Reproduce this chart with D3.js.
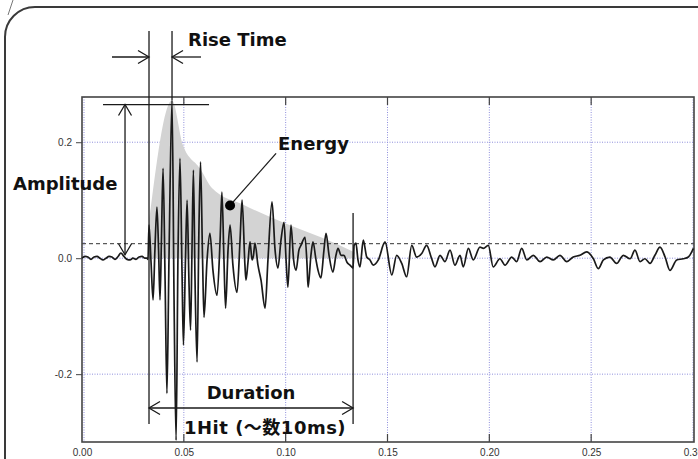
<!DOCTYPE html>
<html>
<head>
<meta charset="utf-8">
<script src="https://cdn.jsdelivr.net/npm/d3@7"></script>
<style>
    body { margin: 0; background: #fff; }
    svg { display: block; }
</style>
</head>
<body>
<svg id="chart" width="698" height="459"></svg>
<script>
const margins = {top: 97, right: 3, bottom: 17, left: 82, width: 698, height: 459};

const xTicks = [0, 0.05, 0.10, 0.15, 0.20, 0.25, 0.30];
const xTickLabels = ["0.00", "0.05", "0.10", "0.15", "0.20", "0.25", "0.30"];
const yTicks = [-0.2, 0.0, 0.2];
const yTickLabels = ["-0.2", "0.0", "0.2"];

// hit parameters (seconds / volts)
const threshold = 0.025;
const triggerTime = 0.0329;
const peakTime = 0.0442;
const peakAmp = 0.265;
const endTime = 0.1331;

// [time, amplitude]
const wave = [
    [0.0000, 0.000], [0.0015, 0.003], [0.0029, 0.002], [0.0044, -0.002], [0.0059, 0.002], [0.0074, 0.003],
    [0.0088, 0.000], [0.0103, -0.003], [0.0118, 0.000], [0.0133, 0.003], [0.0147, 0.002], [0.0162, -0.002],
    [0.0177, 0.003], [0.0191, 0.009], [0.0206, 0.003], [0.0221, -0.002], [0.0236, -0.003], [0.0250, 0.000],
    [0.0265, -0.002], [0.0280, 0.002], [0.0295, 0.003], [0.0309, 0.000], [0.0319, 0.000], [0.0324, -0.002],
    [0.0329, 0.057], [0.0339, -0.007], [0.0349, -0.072], [0.0358, 0.014], [0.0368, 0.088], [0.0376, 0.014],
    [0.0383, -0.072], [0.0390, 0.031], [0.0398, 0.155], [0.0408, -0.038], [0.0417, -0.233], [0.0427, -0.003],
    [0.0442, 0.272], [0.0452, -0.072], [0.0462, -0.314], [0.0471, -0.003], [0.0481, 0.172], [0.0491, -0.021],
    [0.0498, -0.150], [0.0508, -0.003], [0.0516, 0.100], [0.0525, -0.038], [0.0533, -0.124], [0.0540, 0.014],
    [0.0547, 0.152], [0.0555, -0.038], [0.0565, -0.179], [0.0574, 0.048], [0.0582, 0.166], [0.0592, -0.003],
    [0.0599, -0.102], [0.0614, -0.003], [0.0628, 0.043], [0.0643, -0.021], [0.0663, -0.064], [0.0678, 0.031],
    [0.0687, 0.114], [0.0697, -0.003], [0.0705, -0.086], [0.0717, 0.014], [0.0727, 0.057], [0.0741, -0.012],
    [0.0761, -0.059], [0.0776, 0.031], [0.0786, 0.100], [0.0800, -0.012], [0.0805, -0.038], [0.0815, -0.007],
    [0.0825, 0.028], [0.0835, -0.003], [0.0842, 0.005], [0.0849, 0.026], [0.0864, -0.012], [0.0879, -0.038],
    [0.0899, -0.086], [0.0913, -0.003], [0.0933, 0.097], [0.0948, 0.014], [0.0962, -0.017], [0.0977, 0.031],
    [0.0992, 0.062], [0.1002, -0.003], [0.1011, -0.050], [0.1026, 0.057], [0.1039, -0.003], [0.1051, -0.021],
    [0.1065, 0.014], [0.1075, 0.022], [0.1095, 0.036], [0.1105, -0.012], [0.1110, -0.050], [0.1124, 0.005],
    [0.1134, 0.028], [0.1149, -0.003], [0.1159, -0.021], [0.1173, -0.034], [0.1188, 0.014], [0.1198, 0.043],
    [0.1213, 0.005], [0.1232, -0.024], [0.1247, 0.005], [0.1257, 0.017], [0.1272, 0.005], [0.1286, 0.005],
    [0.1301, -0.007], [0.1316, -0.012], [0.1331, -0.017], [0.1336, 0.022], [0.1345, 0.026], [0.1355, -0.003],
    [0.1365, -0.015], [0.1381, 0.031], [0.1398, 0.002], [0.1414, -0.003], [0.1430, -0.012], [0.1455, -0.003],
    [0.1488, 0.028], [0.1521, -0.029], [0.1545, 0.005], [0.1570, -0.009], [0.1594, -0.032], [0.1619, 0.022],
    [0.1643, 0.002], [0.1668, 0.008], [0.1692, 0.022], [0.1717, -0.001], [0.1733, -0.015], [0.1758, 0.005],
    [0.1782, -0.006], [0.1807, 0.014], [0.1831, -0.012], [0.1856, 0.005], [0.1872, -0.015], [0.1897, 0.017],
    [0.1921, -0.003], [0.1954, 0.019], [0.1971, 0.017], [0.1995, 0.022], [0.2019, -0.015], [0.2052, -0.001],
    [0.2077, -0.012], [0.2110, 0.002], [0.2134, -0.006], [0.2159, 0.017], [0.2184, -0.003], [0.2216, 0.005],
    [0.2249, -0.006], [0.2282, 0.002], [0.2314, -0.003], [0.2347, 0.005], [0.2380, -0.006], [0.2412, 0.002],
    [0.2445, 0.005], [0.2478, 0.011], [0.2511, -0.001], [0.2535, -0.018], [0.2560, -0.003], [0.2592, 0.002],
    [0.2625, -0.009], [0.2658, 0.005], [0.2691, -0.001], [0.2715, 0.014], [0.2740, -0.006], [0.2764, -0.001],
    [0.2789, -0.009], [0.2813, 0.005], [0.2838, 0.019], [0.2863, 0.002], [0.2887, -0.021], [0.2920, -0.003],
    [0.2952, -0.001], [0.2977, 0.002], [0.3002, 0.017]
];

// shaded energy envelope
const energyEnvelope = [
    [0.0329, 0.057], [0.0442, 0.272], [0.0496, 0.195], [0.0579, 0.155], [0.0638, 0.121],
    [0.0800, 0.091], [0.1021, 0.057], [0.1173, 0.036], [0.1340, 0.010]
];
const energyDot = [0.0727, 0.091];

const svg = d3.select("#chart");
const plotRight = margins.width - margins.right - 1;
const plotBottom = margins.height - margins.bottom;

const xScale = d3.scaleLinear().domain([0, 0.30]).range([margins.left, 693]);
const yScale = d3.scaleLinear().domain([-0.317, 0.278]).range([plotBottom, margins.top]);

const labelFont = "'DejaVu Sans', 'Noto Sans CJK JP', sans-serif";
const ink = "#1a1a1a";

// outer rounded panel
svg.append("path")
    .attr("d", "M5,470 V37 A30,30 0 0 1 35,7 H710")
    .attr("fill", "none")
    .attr("stroke", "#3a3a3a")
    .attr("stroke-width", 2);
svg.append("line")
    .attr("x1", 13).attr("y1", 0).attr("x2", 8).attr("y2", 15)
    .attr("stroke", "#777").attr("stroke-width", 1);

// grid
const grid = svg.append("g");
grid.selectAll(".vgrid")
    .data(xTicks)
    .enter()
    .append("line")
    .attr("x1", d => xScale(d) + (d === 0 ? 2 : 0))
    .attr("x2", d => xScale(d) + (d === 0 ? 2 : 0))
    .attr("y1", margins.top)
    .attr("y2", plotBottom)
    .attr("stroke", "#8f8fdc")
    .attr("stroke-dasharray", "1,1.5");
grid.selectAll(".hgrid")
    .data(yTicks)
    .enter()
    .append("line")
    .attr("x1", margins.left)
    .attr("x2", plotRight)
    .attr("y1", d => yScale(d))
    .attr("y2", d => yScale(d))
    .attr("stroke", "#8f8fdc")
    .attr("stroke-dasharray", "1,1.5");

// energy area
const area = d3.area()
    .x(d => xScale(d[0]))
    .y0(yScale(0))
    .y1(d => yScale(d[1]))
    .curve(d3.curveMonotoneX);
svg.append("path")
    .datum(energyEnvelope)
    .attr("d", area)
    .attr("fill", "#d3d3d3");

// threshold
svg.append("line")
    .attr("x1", margins.left)
    .attr("x2", plotRight)
    .attr("y1", yScale(threshold))
    .attr("y2", yScale(threshold))
    .attr("stroke", "#333")
    .attr("stroke-dasharray", "4,3");

// plot frame + ticks
svg.append("rect")
    .attr("x", margins.left)
    .attr("y", margins.top)
    .attr("width", plotRight - margins.left)
    .attr("height", plotBottom - margins.top)
    .attr("fill", "none")
    .attr("stroke", "#444")
    .attr("stroke-width", 1.6);

const axisX = d3.axisBottom(xScale).tickValues(xTicks).tickSize(0).tickFormat((d, i) => xTickLabels[i]);
const gx = svg.append("g").attr("transform", `translate(0,${plotBottom})`).call(axisX);
gx.select(".domain").remove();
gx.selectAll("text")
    .attr("dy", 0)
    .attr("y", 14)
    .attr("fill", "#333")
    .style("font-family", "'Liberation Sans', Arial, sans-serif")
    .style("font-size", "10px");

const axisY = d3.axisLeft(yScale).tickValues(yTicks).tickSize(6).tickPadding(4).tickFormat((d, i) => yTickLabels[i]);
const gy = svg.append("g").attr("transform", `translate(${margins.left},0)`).call(axisY);
gy.select(".domain").remove();
gy.selectAll("line").attr("stroke", "#444");
gy.selectAll("text")
    .attr("fill", "#333")
    .style("font-family", "'Liberation Sans', Arial, sans-serif")
    .style("font-size", "10px");

svg.selectAll(".xtick")
    .data(xTicks.slice(1, -1))
    .enter()
    .append("path")
    .attr("d", d => `M${xScale(d)},${plotBottom} v-8 M${xScale(d)},${margins.top} v8`)
    .attr("stroke", "#444")
    .attr("stroke-width", 1.2);

// waveform
const line = d3.line()
    .x(d => xScale(d[0]))
    .y(d => yScale(d[1]))
    .curve(d3.curveMonotoneX);
svg.append("path")
    .datum(wave)
    .attr("d", line)
    .attr("fill", "none")
    .attr("stroke", ink)
    .attr("stroke-width", 1.7)
    .attr("stroke-linejoin", "round");

// annotations
const ann = svg.append("g")
    .attr("fill", "none")
    .attr("stroke", ink)
    .attr("stroke-width", 1.3);

function arrowHead(x, y, dir) {
    // open chevron, dir = where the tip points
    const len = 11, half = 6.5;
    if (dir === "right") return `M${x - len},${y - half} L${x},${y} L${x - len},${y + half}`;
    if (dir === "left") return `M${x + len},${y - half} L${x},${y} L${x + len},${y + half}`;
    if (dir === "up") return `M${x - half},${y + len} L${x},${y} L${x + half},${y + len}`;
    return `M${x - half},${y - len} L${x},${y} L${x + half},${y - len}`;
}

const xTrig = xScale(triggerTime);
const xPeak = xScale(peakTime);
const xEnd = xScale(endTime);
const yPeak = yScale(peakAmp);
const annTop = 31;
const annBottom = 424;

// rise time
ann.append("line").attr("x1", xTrig).attr("x2", xTrig).attr("y1", annTop).attr("y2", annBottom);
ann.append("line").attr("x1", xPeak).attr("x2", xPeak).attr("y1", annTop).attr("y2", yScale(0.272));
ann.append("line").attr("x1", xTrig - 37).attr("x2", xTrig).attr("y1", 57).attr("y2", 57);
ann.append("path").attr("d", arrowHead(xTrig, 57, "right"));
ann.append("line").attr("x1", xPeak + 29).attr("x2", xPeak).attr("y1", 57).attr("y2", 57);
ann.append("path").attr("d", arrowHead(xPeak, 57, "left"));

// amplitude
const xAmp = xPeak - 47;
ann.append("line").attr("x1", xPeak - 69).attr("x2", xPeak + 37).attr("y1", yPeak).attr("y2", yPeak);
ann.append("line").attr("x1", xAmp).attr("x2", xAmp).attr("y1", yPeak).attr("y2", yScale(0.006));
ann.append("path").attr("d", arrowHead(xAmp, yPeak, "up"));
ann.append("path").attr("d", arrowHead(xAmp, yScale(0.006), "down"));

// energy pointer
const dotX = xScale(energyDot[0]), dotY = yScale(energyDot[1]);
ann.append("line").attr("x1", dotX).attr("y1", dotY).attr("x2", dotX + 46).attr("y2", dotY - 52);
svg.append("circle").attr("cx", dotX).attr("cy", dotY).attr("r", 5).attr("fill", "#000");

// duration
ann.append("line").attr("x1", xEnd).attr("x2", xEnd).attr("y1", 213).attr("y2", annBottom);
ann.append("line").attr("x1", xTrig).attr("x2", xEnd).attr("y1", 408).attr("y2", 408);
ann.append("path").attr("d", arrowHead(xTrig, 408, "left"));
ann.append("path").attr("d", arrowHead(xEnd, 408, "right"));

const labels = [
    {text: "Rise Time", x: xPeak + 16, y: 46, anchor: "start", spacing: 0},
    {text: "Amplitude", x: 13, y: 190, anchor: "start", spacing: 0},
    {text: "Energy", x: dotX + 48, y: 150, anchor: "start", spacing: 0},
    {text: "Duration", x: (xTrig + xEnd) / 2, y: 399, anchor: "middle", spacing: 0},
    {text: "1Hit (～数10ms)", x: 184, y: 434, anchor: "start", spacing: 0.5}
];
svg.selectAll(".ann-label")
    .data(labels)
    .enter()
    .append("text")
    .attr("x", d => d.x)
    .attr("y", d => d.y)
    .attr("text-anchor", d => d.anchor)
    .attr("letter-spacing", d => d.spacing)
    .attr("fill", "#111")
    .style("font-family", labelFont)
    .style("font-weight", "bold")
    .style("font-size", "18px")
    .text(d => d.text);
</script>
</body>
</html>
